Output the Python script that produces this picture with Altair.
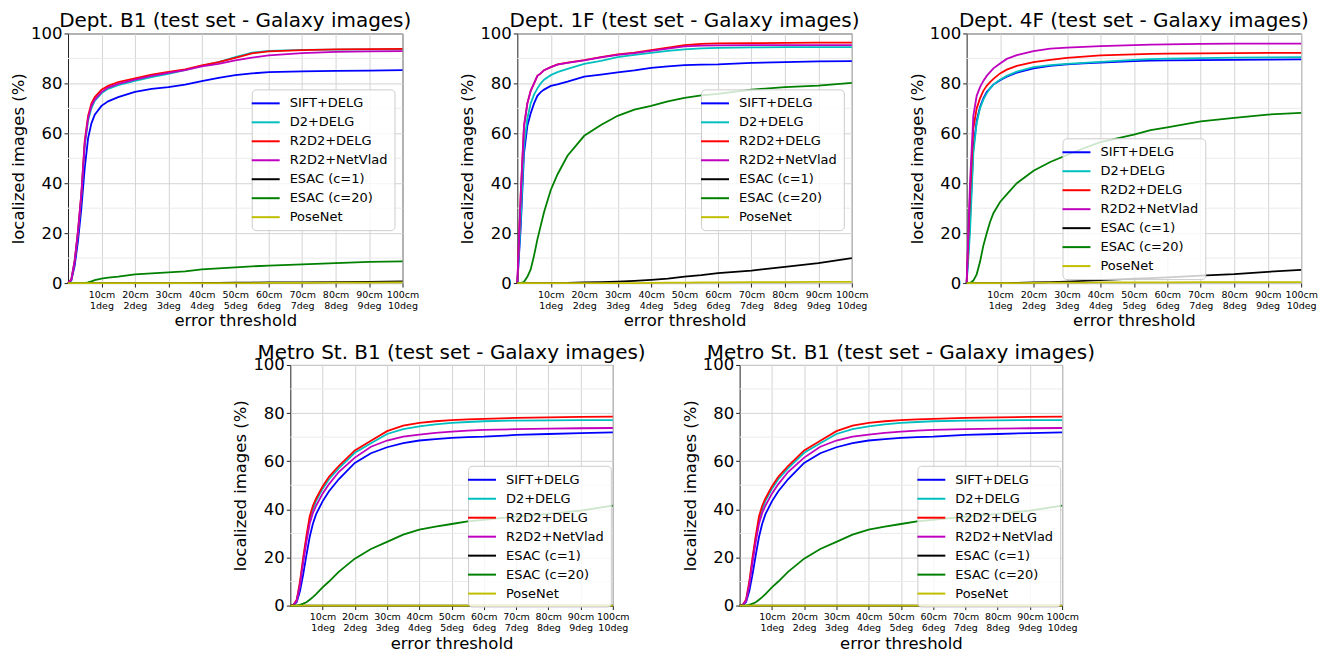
import altair as alt
import pandas as pd

methods = ["SIFT+DELG", "D2+DELG", "R2D2+DELG", "R2D2+NetVlad", "ESAC (c=1)", "ESAC (c=20)", "PoseNet"]
colors = ["#0000ff", "#00bfbf", "#ff0000", "#bf00bf", "#000000", "#008000", "#bfbf00"]

thresholds = [0, 1, 2, 3, 4, 5, 6, 7, 8, 10, 12, 15, 20, 25, 30, 35, 40, 45, 50, 55, 60, 70, 80, 90, 100]
x_ticks = [10, 20, 30, 40, 50, 60, 70, 80, 90, 100]
y_ticks = [0, 20, 40, 60, 80, 100]
minor_y = [10, 30, 50, 70, 90]

# Dept. B1
b1_sift = [0, 1, 7, 17, 30, 46, 58, 64, 67.5, 71, 72.8, 74.5, 76.6, 77.8, 78.5, 79.5, 80.9, 82.2, 83.3, 84, 84.5, 84.8, 85, 85.1, 85.3]
b1_d2 = [0, 1.5, 9, 20, 35, 55, 65, 70, 73, 76, 77.8, 79.3, 81, 82.5, 83.8, 85.3, 87, 88.5, 90.5, 92.3, 93, 93.4, 93.5, 93.6, 93.6]
b1_r2d2 = [0, 1.5, 9, 21, 36, 57, 67, 72, 74.5, 77.5, 79, 80.5, 82, 83.5, 84.6, 85.6, 87.2, 88.5, 90.2, 92, 92.8, 93.3, 93.6, 93.7, 93.8]
b1_netvlad = [0, 1.5, 9, 21, 36, 56, 66, 71, 73.5, 76.5, 78.3, 79.8, 81.5, 83, 84.2, 85.3, 86.8, 87.8, 89.2, 90.3, 91.2, 92.1, 92.6, 92.8, 92.9]
b1_esac1 = [0, 0, 0, 0, 0, 0, 0, 0, 0, 0, 0, 0, 0, 0, 0, 0, 0.1, 0.1, 0.2, 0.2, 0.3, 0.3, 0.4, 0.5, 0.7]
b1_esac20 = [0, 0, 0, 0, 0, 0, 0.3, 0.7, 1.2, 1.8, 2.2, 2.6, 3.5, 3.9, 4.3, 4.7, 5.5, 5.9, 6.3, 6.7, 7, 7.5, 8, 8.5, 8.7]
b1_posenet = [0, 0, 0, 0, 0, 0, 0, 0, 0, 0, 0, 0, 0, 0, 0, 0, 0, 0, 0, 0, 0.1, 0.1, 0.2, 0.2, 0.3]

# Dept. 1F
f1_sift = [0, 22, 52, 63, 68, 72, 75, 76.5, 77.5, 79, 79.6, 80.7, 82.7, 83.5, 84.4, 85.2, 86.2, 86.8, 87.3, 87.5, 87.6, 88.2, 88.5, 88.8, 88.9]
f1_d2 = [0, 25, 55, 66, 72, 75.5, 78, 80, 81.5, 83.3, 84.5, 85.8, 87.8, 89, 90.5, 91.4, 92.2, 93, 93.6, 94, 94.2, 94.4, 94.5, 94.5, 94.5]
f1_r2d2 = [0, 35, 63, 72, 77, 80, 83, 84, 85.3, 86.5, 87.6, 88.3, 89.3, 90.5, 91.6, 92.3, 93.3, 94.3, 95.3, 95.8, 96, 96.1, 96.2, 96.3, 96.3]
f1_netvlad = [0, 35, 63, 72, 77, 80, 83, 84, 85.3, 86.5, 87.5, 88.2, 89.2, 90.4, 91.4, 92.1, 93, 93.9, 94.8, 95.1, 95.2, 95.3, 95.3, 95.3, 95.3]
f1_esac1 = [0, 0, 0, 0, 0, 0, 0, 0, 0, 0, 0, 0.05, 0.3, 0.4, 0.6, 0.9, 1.3, 1.8, 2.6, 3.2, 4, 5, 6.5, 8, 10]
f1_esac20 = [0, 0, 0.5, 2.5, 5.5, 11, 17.5, 23, 28.5, 37.3, 43.5, 51, 59, 63.3, 67, 69.5, 71, 72.8, 74.2, 75.2, 75.8, 77.5, 78.5, 79.1, 80.2]
f1_posenet = [0, 0, 0, 0, 0, 0, 0, 0, 0, 0, 0, 0, 0, 0, 0, 0, 0.1, 0.15, 0.2, 0.25, 0.3, 0.4, 0.4, 0.5, 0.5]

# Dept. 4F
f4_sift = [0, 25, 54, 65, 70.5, 74, 76.5, 78, 79.5, 81.3, 82.7, 84.3, 86, 87, 87.6, 88, 88.3, 88.6, 88.9, 89.1, 89.2, 89.3, 89.4, 89.5, 89.6]
f4_d2 = [0, 20, 52, 64, 70, 73.5, 76, 78, 79.5, 81.5, 83, 84.7, 86.5, 87.3, 87.8, 88.2, 88.6, 89, 89.4, 89.7, 89.9, 90.1, 90.3, 90.4, 90.5]
f4_r2d2 = [0, 35, 62, 70, 74, 77, 79, 80.5, 81.8, 84, 85.5, 87, 88.5, 89.4, 90.2, 90.7, 91.2, 91.4, 91.6, 91.8, 91.9, 92, 92.1, 92.2, 92.2]
f4_netvlad = [0, 40, 67, 75, 78.5, 81, 83, 84.5, 86, 88, 89.8, 91.3, 92.9, 93.9, 94.3, 94.6, 94.9, 95.1, 95.3, 95.5, 95.6, 95.8, 95.9, 95.9, 95.9]
f4_esac1 = [0, 0, 0, 0, 0, 0, 0, 0, 0, 0, 0, 0.1, 0.3, 0.4, 0.6, 0.9, 1.2, 1.5, 1.8, 2, 2.3, 3, 3.6, 4.5, 5.3]
f4_esac20 = [0, 0, 1, 3.5, 8.5, 15, 20, 24.5, 28, 32.5, 35.5, 40, 45, 48.5, 51.3, 54, 56.5, 58, 59.5, 61.3, 62.4, 64.8, 66.2, 67.5, 68.2]
f4_posenet = [0, 0, 0, 0, 0, 0, 0, 0, 0, 0, 0, 0, 0.1, 0.15, 0.2, 0.2, 0.25, 0.25, 0.3, 0.3, 0.3, 0.35, 0.35, 0.4, 0.4]

# Metro St. B1
m_sift = [0, 0.2, 1.5, 6, 13, 21, 28.5, 34, 38, 43.3, 47.5, 52.5, 59.3, 63.3, 65.8, 67.5, 68.6, 69.2, 69.7, 70, 70.2, 70.9, 71.3, 71.7, 72]
m_d2 = [0, 0.3, 2, 9, 19, 28, 35.5, 40, 43.5, 48.5, 52.5, 57, 63.5, 67.5, 71.3, 73.3, 74.5, 75.3, 75.9, 76.3, 76.6, 76.9, 77, 77.1, 77.1]
m_r2d2 = [0, 0.3, 2.5, 10, 20, 29, 37, 41.5, 44.5, 49.5, 53.5, 58, 64.5, 68.5, 72.5, 74.8, 75.9, 76.6, 77.1, 77.4, 77.6, 78, 78.2, 78.4, 78.5]
m_netvlad = [0, 0.3, 2, 8.5, 18, 26.5, 34, 38.5, 41.5, 46.5, 50.5, 55.5, 61.5, 66, 68.6, 70.2, 71, 71.8, 72.3, 72.7, 73, 73.3, 73.5, 73.7, 73.8]
m_esac1 = [0, 0, 0, 0, 0, 0, 0, 0, 0, 0, 0, 0, 0, 0, 0, 0, 0, 0, 0, 0, 0, 0, 0, 0, 0]
m_esac20 = [0, 0, 0, 0.3, 0.8, 1.4, 2.4, 3.5, 4.8, 7.6, 10, 14, 19.5, 23.5, 26.5, 29.5, 31.6, 32.8, 33.9, 35, 35.6, 37, 38.1, 39.5, 41.5]
m_posenet = [0, 0, 0, 0, 0, 0, 0, 0, 0, 0, 0, 0, 0, 0, 0, 0, 0, 0, 0, 0, 0, 0, 0, 0, 0]

FONT = "DejaVu Sans"


def panel(title, series, w, h, lx, ly):
    rows = []
    for m, vals in zip(methods, series):
        for xv, yv in zip(thresholds, vals):
            rows.append({"x": xv, "y": yv, "method": m})
    df = pd.DataFrame(rows)
    grid_df = pd.DataFrame({"v": minor_y})

    xscale = alt.Scale(domain=[0, 100], nice=False)
    yscale = alt.Scale(domain=[0, 100], nice=False)
    yaxis = alt.Axis(values=y_ticks, title="localized images (%)", labelFlush=False,
                     labelFontSize=16.5, titleFontSize=16.5, titlePadding=4,
                     tickSize=4, labelPadding=2, gridColor="#d4d4d4")
    xaxis = alt.Axis(values=x_ticks, title="error threshold",
                     labelExpr="[datum.value + 'cm', (datum.value / 10) + 'deg']",
                     labelFlush=False, labelOverlap=False, labelFontSize=9.5,
                     labelLineHeight=11, titleFontSize=16.5, titlePadding=3,
                     tickSize=4, labelPadding=2, gridColor="#d4d4d4")

    minor = alt.Chart(grid_df).mark_rule(color="#ebebeb", strokeWidth=1).encode(
        y=alt.Y("v:Q", scale=yscale, axis=yaxis)
    )
    lines = alt.Chart(df).mark_line(strokeWidth=1.8).encode(
        x=alt.X("x:Q", scale=xscale, axis=xaxis),
        y=alt.Y("y:Q", scale=yscale, axis=yaxis),
        color=alt.Color(
            "method:N",
            scale=alt.Scale(domain=methods, range=colors),
            sort=methods,
            legend=alt.Legend(
                title=None, orient="none", legendX=lx, legendY=ly,
                symbolType="M-2,0H2", symbolSize=196, symbolStrokeWidth=2,
                labelFontSize=13, labelFont=FONT, labelOffset=16, labelLimit=300,
                rowPadding=4, padding=6, fillColor="rgba(255,255,255,0.8)",
                strokeColor="#cccccc", cornerRadius=4,
            ),
        ),
    )
    return alt.layer(minor, lines).properties(
        width=w, height=h,
        title=alt.TitleParams(title, frame="group", anchor="middle", offset=-6,
                              fontSize=20, font=FONT, fontWeight="normal", color="black"),
    )


p1 = panel("Dept. B1 (test set - Galaxy images)",
           [b1_sift, b1_d2, b1_r2d2, b1_netvlad, b1_esac1, b1_esac20, b1_posenet], 335, 250, 184, 56)
p2 = panel("Dept. 1F (test set - Galaxy images)",
           [f1_sift, f1_d2, f1_r2d2, f1_netvlad, f1_esac1, f1_esac20, f1_posenet], 335, 250, 184, 56)
p3 = panel("Dept. 4F (test set - Galaxy images)",
           [f4_sift, f4_d2, f4_r2d2, f4_netvlad, f4_esac1, f4_esac20, f4_posenet], 335, 250, 96, 105)
p4 = panel("Metro St. B1 (test set - Galaxy images)",
           [m_sift, m_d2, m_r2d2, m_netvlad, m_esac1, m_esac20, m_posenet], 323, 241, 178, 101)
p5 = panel("Metro St. B1 (test set - Galaxy images)",
           [m_sift, m_d2, m_r2d2, m_netvlad, m_esac1, m_esac20, m_posenet], 323, 241, 178, 101)

top = alt.hconcat(p1, p2, p3, spacing=40).resolve_scale(color="independent").resolve_legend(color="independent")
bottom = alt.hconcat(p4, p5, spacing=35).resolve_scale(color="independent").resolve_legend(color="independent")

chart = (
    alt.vconcat(top, bottom, spacing=12, center=True)
    .resolve_scale(color="independent")
    .resolve_legend(color="independent")
    .properties(padding={"left": 2, "top": 2, "right": 2, "bottom": 2})
    .configure_view(stroke="#222222", strokeWidth=1)
    .configure_axis(labelFont=FONT, titleFont=FONT, titleFontWeight="normal",
                    labelColor="black", titleColor="black", tickColor="#222222",
                    domain=False, grid=True, gridWidth=1)
)

chart.save("out.html", embed_options={"renderer": "svg", "actions": False})
